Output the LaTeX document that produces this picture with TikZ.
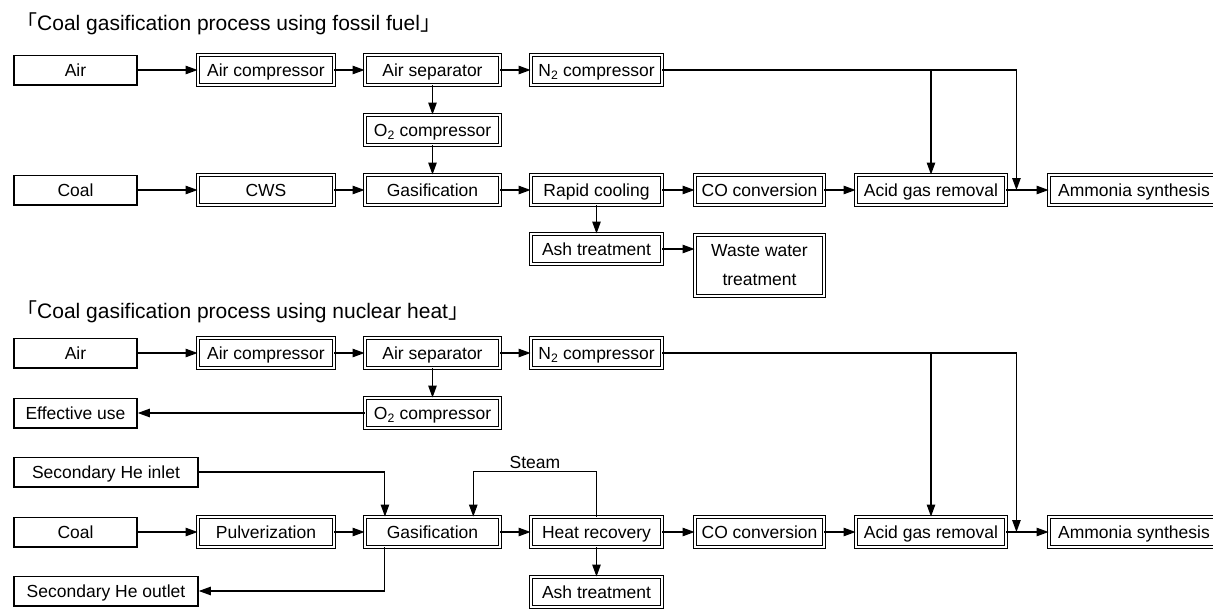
\documentclass[tikz,border=0pt]{standalone}
\usepackage{fontspec}
\setmainfont{Liberation Sans}
\newfontfamily\cjk{Noto Sans CJK JP}
\usetikzlibrary{arrows.meta,calc}

\tikzset{
  unit/.style={draw, double, double distance=2pt, line width=0.9pt,
    minimum height=30pt, inner sep=0pt, text height=13pt, text depth=0pt},
  src/.style={draw, line width=1.6pt, minimum height=29.4pt, inner sep=0pt,
    text height=13pt, text depth=0pt},
  flow/.style={line width=1.1pt, -{Triangle[length=12pt,width=8.5pt]}},
  heading/.style={anchor=base west, inner sep=0pt, font=\fontsize{21}{25}\selectfont}
}

\begin{document}
\begin{tikzpicture}[x=1pt, y=-1pt, font=\fontsize{17.5}{29}\selectfont]
  \useasboundingbox (0,0) rectangle (1213,608);
  % fossil fuel
  \node[heading] (head1) at (16,30) {{\cjk 「}Coal gasification process using fossil fuel{\cjk 」}};
  \node[src, minimum width=123pt] (air1) at (75.5,70) {Air};
  \node[unit, minimum width=136pt] (comp1) at (266,70) {Air compressor};
  \node[unit, minimum width=135pt] (sep1) at (432.5,70) {Air separator};
  \node[unit, minimum width=131pt] (ncomp1) at (596.5,70) {N\textsubscript{2} compressor};
  \node[unit, minimum width=135pt] (ocomp1) at (432.5,130) {O\textsubscript{2} compressor};
  \node[src, minimum width=123pt] (coal1) at (75.5,190) {Coal};
  \node[unit, minimum width=136pt] (cws1) at (266,190) {CWS};
  \node[unit, minimum width=135pt] (gas1) at (432.5,190) {Gasification};
  \node[unit, minimum width=131pt] (cool1) at (596.5,190) {Rapid cooling};
  \node[unit, minimum width=129pt] (conv1) at (759.5,190) {CO conversion};
  \node[unit, minimum width=150pt] (acid1) at (931,190) {Acid gas removal};
  \node[unit, minimum width=170pt] (amm1) at (1134,190) {Ammonia synthesis};
  \node[unit, minimum width=131pt] (ash1) at (596.5,249) {Ash treatment};
  \node[unit, minimum width=129pt, minimum height=61pt, text height=, text depth=, align=center] (waste1) at (759.5,265.5) {Waste water\\treatment};
  \draw[flow] (air1) -- (comp1);
  \draw[flow] (comp1) -- (sep1);
  \draw[flow] (sep1) -- (ncomp1);
  \draw[flow] (sep1) -- (ocomp1);
  \draw[flow] (ocomp1) -- (gas1);
  \draw[flow] (coal1) -- (cws1);
  \draw[flow] (cws1) -- (gas1);
  \draw[flow] (gas1) -- (cool1);
  \draw[flow] (cool1) -- (conv1);
  \draw[flow] (conv1) -- (acid1);
  \draw[flow] (acid1) -- (amm1);
  \draw[flow] (cool1) -- (ash1);
  \draw[flow] (ash1.east) -- (ash1.east -| waste1.west);
  \coordinate (join1) at ([xshift=10pt]acid1.east);
  \draw[flow] (ncomp1.east) -| (join1);
  \draw[flow] (ncomp1.east -| acid1.north) -- (acid1.north);

  % nuclear heat
  \node[heading] (head2) at (16,318) {{\cjk 「}Coal gasification process using nuclear heat{\cjk 」}};
  \node[src, minimum width=123pt] (air2) at (75.5,353) {Air};
  \node[unit, minimum width=136pt] (comp2) at (266,353) {Air compressor};
  \node[unit, minimum width=135pt] (sep2) at (432.5,353) {Air separator};
  \node[unit, minimum width=131pt] (ncomp2) at (596.5,353) {N\textsubscript{2} compressor};
  \node[src, minimum width=123pt] (use2) at (75.5,413) {Effective use};
  \node[unit, minimum width=135pt] (ocomp2) at (432.5,413) {O\textsubscript{2} compressor};
  \node[src, minimum width=184pt] (hein) at (106,472) {Secondary He inlet};
  \node[src, minimum width=123pt] (coal2) at (75.5,532) {Coal};
  \node[unit, minimum width=136pt] (pulv2) at (266,532) {Pulverization};
  \node[unit, minimum width=135pt] (gas2) at (432.5,532) {Gasification};
  \node[unit, minimum width=131pt] (heat2) at (596.5,532) {Heat recovery};
  \node[unit, minimum width=129pt] (conv2) at (759.5,532) {CO conversion};
  \node[unit, minimum width=150pt] (acid2) at (931,532) {Acid gas removal};
  \node[unit, minimum width=170pt] (amm2) at (1134,532) {Ammonia synthesis};
  \node[src, minimum width=184pt] (heout) at (106,591) {Secondary He outlet};
  \node[unit, minimum width=131pt] (ash2) at (596.5,592) {Ash treatment};
  \draw[flow] (air2) -- (comp2);
  \draw[flow] (comp2) -- (sep2);
  \draw[flow] (sep2) -- (ncomp2);
  \draw[flow] (sep2) -- (ocomp2);
  \draw[flow] (ocomp2) -- (use2);
  \draw[flow] (coal2) -- (pulv2);
  \draw[flow] (pulv2) -- (gas2);
  \draw[flow] (gas2) -- (heat2);
  \draw[flow] (heat2) -- (conv2);
  \draw[flow] (conv2) -- (acid2);
  \draw[flow] (acid2) -- (amm2);
  \draw[flow] (heat2) -- (ash2);
  \coordinate (hetop) at ($(gas2.north west)!0.15!(gas2.north east)$);
  \coordinate (hebot) at ($(gas2.south west)!0.15!(gas2.south east)$);
  \coordinate (steam) at ($(gas2.north west)!0.8!(gas2.north east)$);
  \draw[flow] (hein.east) -| (hetop);
  \draw[flow] (hebot) |- (heout.east);
  \draw[flow] (heat2.north) -- ++(0,-45) -| node[pos=0.25, above, inner sep=2pt] {Steam} (steam);
  \coordinate (join2) at ([xshift=10pt]acid2.east);
  \draw[flow] (ncomp2.east) -| (join2);
  \draw[flow] (ncomp2.east -| acid2.north) -- (acid2.north);
\end{tikzpicture}
\end{document}
